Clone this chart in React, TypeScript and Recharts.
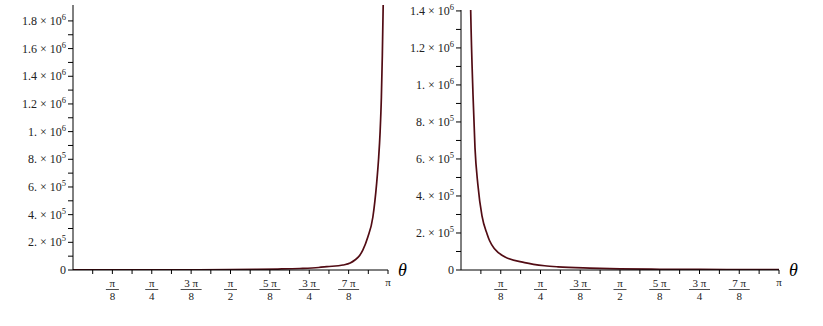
import React from "react";
import { LineChart, Line, XAxis, YAxis } from "recharts";

const PI = Math.PI;

// θ given as a fraction of π
const leftTheta = [0, 0.125, 0.25, 0.375, 0.5, 0.584, 0.65, 0.72, 0.78, 0.806, 0.857, 0.88, 0.895, 0.91, 0.92, 0.936, 0.952, 0.964, 0.97, 0.975, 0.979, 0.982, 0.985, 0.988];
const leftValues = [1000, 1100, 1300, 1700, 2600, 4500, 7000, 11000, 18000, 24000, 36000, 50000, 72000, 105000, 144000, 238000, 383000, 628000, 800000, 1000000, 1250000, 1550000, 1950000, 2400000];

const rightTheta = [0.027, 0.0305, 0.0377, 0.044, 0.053, 0.066, 0.082, 0.09, 0.106, 0.137, 0.2, 0.263, 0.305, 0.405, 0.5, 0.625, 0.75, 0.875, 1];
const rightValues = [1750000, 1400000, 950000, 660000, 462000, 292000, 195000, 158000, 113000, 72000, 40000, 23000, 17000, 10000, 6000, 4000, 3000, 2500, 2000];

// x ticks every π/16, labels on every second one
const xTickSteps = [1, 2, 3, 4, 5, 6, 7, 8, 9, 10, 11, 12, 13, 14, 15, 16];
const xTickNums = ["π", "π", "3 π", "π", "5 π", "3 π", "7 π", "π"];
const xTickDens = ["8", "4", "8", "2", "8", "4", "8", ""];

const leftYTicks = [0, 1e5, 2e5, 3e5, 4e5, 5e5, 6e5, 7e5, 8e5, 9e5, 1e6, 1.1e6, 1.2e6, 1.3e6, 1.4e6, 1.5e6, 1.6e6, 1.7e6, 1.8e6];
const rightYTicks = [0, 1e5, 2e5, 3e5, 4e5, 5e5, 6e5, 7e5, 8e5, 9e5, 1e6, 1.1e6, 1.2e6, 1.3e6, 1.4e6];

const leftMax = 1.915e6;
const rightMax = 1.405e6;

const FONT = "'Liberation Serif', 'DejaVu Serif', serif";
const LINE = "#520c14";

const toRows = (theta: number[], vals: number[]) =>
  theta.map((t, i) => ({ t: t * PI, v: vals[i] }));

const leftData = toRows(leftTheta, leftValues);
const rightData = toRows(rightTheta, rightValues);
const xTicks = xTickSteps.map((k) => (k * PI) / 16);

const YTick = (props: any) => {
  const { x, y, payload } = props;
  const v = Math.round(payload.value);
  if (v % 200000 !== 0) return <g />;
  if (v === 0) {
    return (
      <text x={x} y={y + 4} textAnchor="end" fontSize={12} fontFamily={FONT} fill="#222">
        0
      </text>
    );
  }
  const e = Math.floor(Math.log10(v) + 1e-9);
  const m = Math.round((v / Math.pow(10, e)) * 10) / 10;
  const ms = Number.isInteger(m) ? `${m}.` : `${m}`;
  return (
    <text x={x} y={y + 4} textAnchor="end" fontSize={12} fontFamily={FONT} fill="#222">
      {ms} × 10
      <tspan dy={-5} fontSize={8.5}>
        {e}
      </tspan>
    </text>
  );
};

const XTick = (props: any) => {
  const { x, y, payload } = props;
  const k = Math.round(payload.value / (PI / 16));
  if (k % 2 !== 0) return <g />;
  const i = k / 2 - 1;
  const num = xTickNums[i];
  const den = xTickDens[i];
  if (!den) {
    return (
      <text x={x} y={y + 10} textAnchor="middle" fontSize={11} fontFamily={FONT} fill="#222">
        {num}
      </text>
    );
  }
  const w = num.length > 1 ? 21 : 13;
  return (
    <g>
      <text x={x} y={y + 11} textAnchor="middle" fontSize={11} fontFamily={FONT} fill="#222">
        {num}
      </text>
      <line x1={x - w / 2} x2={x + w / 2} y1={y + 13.5} y2={y + 13.5} stroke="#222" strokeWidth={0.8} />
      <text x={x} y={y + 23.5} textAnchor="middle" fontSize={11} fontFamily={FONT} fill="#222">
        {den}
      </text>
    </g>
  );
};

const ThetaLabel = (props: any) => {
  const vb = props.viewBox || {};
  return (
    <text
      x={vb.x + vb.width + 10}
      y={vb.y + 6}
      fontSize={18}
      fontStyle="italic"
      fontFamily={FONT}
      fill="#000"
    >
      θ
    </text>
  );
};

type PanelProps = {
  data: { t: number; v: number }[];
  yMax: number;
  yTicks: number[];
  width: number;
  yWidth: number;
  margin: { top: number; right: number; left: number; bottom: number };
};

const Panel: React.FC<PanelProps> = ({ data, yMax, yTicks, width, yWidth, margin }) => (
  <LineChart width={width} height={326} data={data} margin={margin}>
    <XAxis
      dataKey="t"
      type="number"
      domain={[0, PI]}
      ticks={xTicks}
      interval={0}
      tickSize={4}
      height={50}
      axisLine={{ stroke: "#000" }}
      tickLine={{ stroke: "#000" }}
      tick={<XTick />}
      label={(p: any) => <ThetaLabel {...p} />}
    />
    <YAxis
      type="number"
      domain={[0, yMax]}
      allowDataOverflow
      ticks={yTicks}
      interval={0}
      tickSize={5}
      width={yWidth}
      axisLine={{ stroke: "#000" }}
      tickLine={{ stroke: "#000" }}
      tick={<YTick />}
    />
    <Line
      type="monotone"
      dataKey="v"
      stroke={LINE}
      strokeWidth={1.7}
      dot={false}
      isAnimationActive={false}
    />
  </LineChart>
);

export default function App() {
  return (
    <div style={{ position: "absolute", left: 0, top: 0, width: 823, height: 326, background: "#fff" }}>
      <div style={{ position: "absolute", left: 0, top: 0 }}>
        <Panel
          data={leftData}
          yMax={leftMax}
          yTicks={leftYTicks}
          width={420}
          yWidth={73}
          margin={{ top: 5, right: 32, left: 0, bottom: 6 }}
        />
      </div>
      <div style={{ position: "absolute", left: 400, top: 0 }}>
        <Panel
          data={rightData}
          yMax={rightMax}
          yTicks={rightYTicks}
          width={423}
          yWidth={61}
          margin={{ top: 10, right: 44, left: 0, bottom: 6 }}
        />
      </div>
    </div>
  );
}
